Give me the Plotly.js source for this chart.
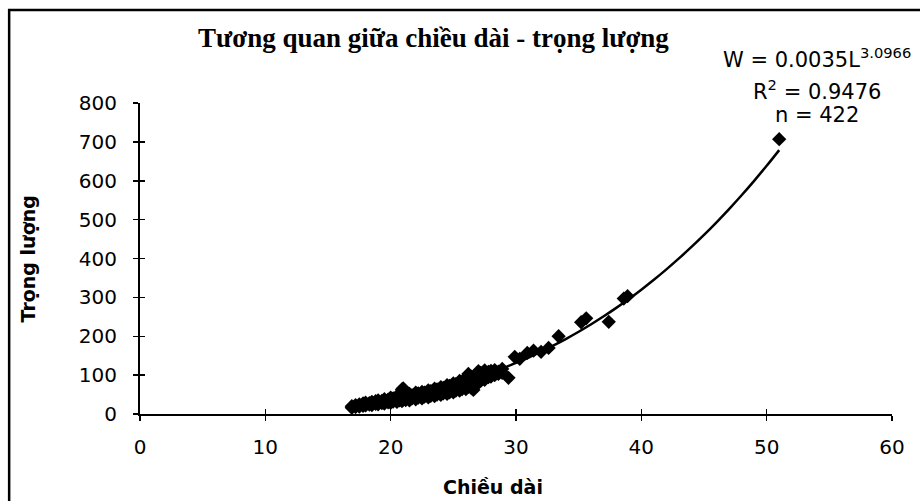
<!DOCTYPE html>
<html>
<head>
<meta charset="utf-8">
<script src="https://cdn.plot.ly/plotly-3.0.1.min.js"></script>
<style>html,body{margin:0;padding:0;background:#fff;}#chart{width:920px;height:501px;}</style>
</head>
<body>
<div id="chart"></div>
<script>
// Observed points: length (Chiều dài) and weight (Trọng lượng)
var lengthVals = [
  16.9,16.9,17.2,17.2,17.5,17.5,17.8,17.8,18.0,18.0,18.3,18.3,18.5,18.5,18.8,18.8,
  19.0,19.0,19.3,19.3,19.5,19.5,19.8,19.8,20.0,20.0,20.2,20.2,20.5,20.5,20.7,20.7,
  20.9,20.9,21.0,21.0,21.2,21.2,21.5,21.5,21.7,21.7,22.0,22.0,22.2,22.2,22.5,22.5,
  22.7,22.7,23.0,23.0,23.2,23.2,23.5,23.5,23.7,23.7,24.0,24.0,24.2,24.2,24.5,24.5,
  24.7,24.7,25.0,25.0,25.2,25.2,25.5,25.5,25.7,25.7,26.0,26.0,26.2,26.2,26.4,26.4,
  26.6,26.6,26.8,26.8,27.0,27.0,27.2,27.2,27.5,27.5,27.8,27.8,28.0,28.0,28.3,28.3,
  28.6,28.6,28.9,28.9,29.4,29.9,30.3,30.9,31.4,32.0,32.6,33.4,35.2,35.6,37.4,38.6,38.9,51.0
];
var weightVals = [
  16,20,18,23,19,25,21,27,22,29,24,28,23,31,26,33,
  25,35,28,34,27,38,30,37,29,42,32,40,31,46,35,44,
  33,63,38,66,36,50,35,52,40,48,38,55,42,53,40,57,
  45,55,43,61,47,59,46,65,50,63,49,69,53,67,52,74,
  56,72,56,79,60,77,60,85,64,83,64,92,70,103,68,97,
  62,90,75,96,80,110,86,106,88,112,95,108,96,111,100,113,
  103,109,106,116,93,147,142,157,163,160,170,200,236,246,237,297,303,707
];
// Power trendline shown on the chart: W = 0.0035 L^3.0966
var trendA = 0.0035;
var trendB = 3.0966;
var trendX = [17,18,19,20,21,22,23,24,25,26,27,28,29,30,31,32,33,34,35,36,37,38,39,40,41,42,43,44,45,46,47,48,49,50,51];
var trendY = trendX.map(function(L){ return trendA * Math.pow(L, trendB); });

var xTicks = [0,10,20,30,40,50,60];
var yTicks = [0,100,200,300,400,500,600,700,800];

var chartTitle = 'Tương quan giữa chiều dài - trọng lượng';
var xTitle = 'Chiều dài';
var yTitle = 'Trọng lượng';
var eqLines = ['W = 0.0035L<sup>3.0966</sup>', 'R<sup>2</sup> = 0.9476', 'n = 422'];

var sans = 'DejaVu Sans, Arial, sans-serif';

var traces = [
  {x: trendX, y: trendY, mode: 'lines', line: {color: '#000', width: 2.5, shape: 'spline'}, showlegend: false, hoverinfo: 'skip'},
  {x: lengthVals, y: weightVals, mode: 'markers', marker: {symbol: 'diamond', size: 11, color: '#000'}, showlegend: false},
  {x: [null], y: [null], xaxis: 'x2', yaxis: 'y2', mode: 'markers', showlegend: false, hoverinfo: 'skip'}
];

var axisCommon = {
  showgrid: false, zeroline: false, showline: true, linecolor: '#000', linewidth: 2,
  ticks: 'outside', ticklen: 5, tickwidth: 1.5, tickcolor: '#000',
  tickfont: {family: sans, size: 20, color: '#000'}
};

var layout = {
  width: 920, height: 501,
  margin: {l: 140, r: 28, t: 103, b: 87, pad: 0},
  paper_bgcolor: '#fff', plot_bgcolor: '#fff',
  showlegend: false,
  xaxis: Object.assign({}, axisCommon, {range: [0, 60], tickvals: xTicks, ticktext: xTicks.map(String), ticklabelstandoff: 9}),
  yaxis: Object.assign({}, axisCommon, {range: [0, 800], tickvals: yTicks, ticktext: yTicks.map(String), ticklabelstandoff: 12}),
  xaxis2: {overlaying: 'x', anchor: 'y', side: 'bottom', range: [0, 60], tickvals: xTicks, ticks: 'inside', ticklen: 5, tickwidth: 1.5, tickcolor: '#000', showticklabels: false, showgrid: false, zeroline: false, showline: false},
  yaxis2: {overlaying: 'y', anchor: 'x', side: 'left', range: [0, 800], tickvals: yTicks, ticks: 'inside', ticklen: 5, tickwidth: 1.5, tickcolor: '#000', showticklabels: false, showgrid: false, zeroline: false, showline: false},
  shapes: [
    {type: 'rect', xref: 'paper', yref: 'paper', x0: -0.174, x1: 1.06, y0: -0.32, y1: 1.299, line: {color: '#000', width: 2.5}, fillcolor: 'rgba(0,0,0,0)', layer: 'above'}
  ],
  annotations: [
    {text: '<b>' + chartTitle + '</b>', xref: 'paper', yref: 'paper', x: 0.39, y: 1.209, xanchor: 'center', yanchor: 'middle', showarrow: false, font: {family: 'Liberation Serif, Times New Roman, serif', size: 27, color: '#000'}},
    {text: '<b>' + xTitle + '</b>', xref: 'paper', yref: 'paper', x: 0.47, y: -0.235, xanchor: 'center', yanchor: 'middle', showarrow: false, font: {family: sans, size: 19, color: '#000'}},
    {text: '<b>' + yTitle + '</b>', xref: 'paper', yref: 'paper', x: -0.149, y: 0.5, xanchor: 'center', yanchor: 'middle', textangle: -90, showarrow: false, font: {family: sans, size: 19, color: '#000'}},
    {text: eqLines[0], xref: 'paper', yref: 'paper', x: 0.9, y: 1.145, xanchor: 'center', yanchor: 'middle', showarrow: false, font: {family: sans, size: 21, color: '#000'}},
    {text: eqLines[1], xref: 'paper', yref: 'paper', x: 0.9, y: 1.042, xanchor: 'center', yanchor: 'middle', showarrow: false, font: {family: sans, size: 21, color: '#000'}},
    {text: eqLines[2], xref: 'paper', yref: 'paper', x: 0.9, y: 0.961, xanchor: 'center', yanchor: 'middle', showarrow: false, font: {family: sans, size: 21, color: '#000'}}
  ]
};

Plotly.newPlot('chart', traces, layout, {displayModeBar: false, staticPlot: true});
</script>
</body>
</html>
